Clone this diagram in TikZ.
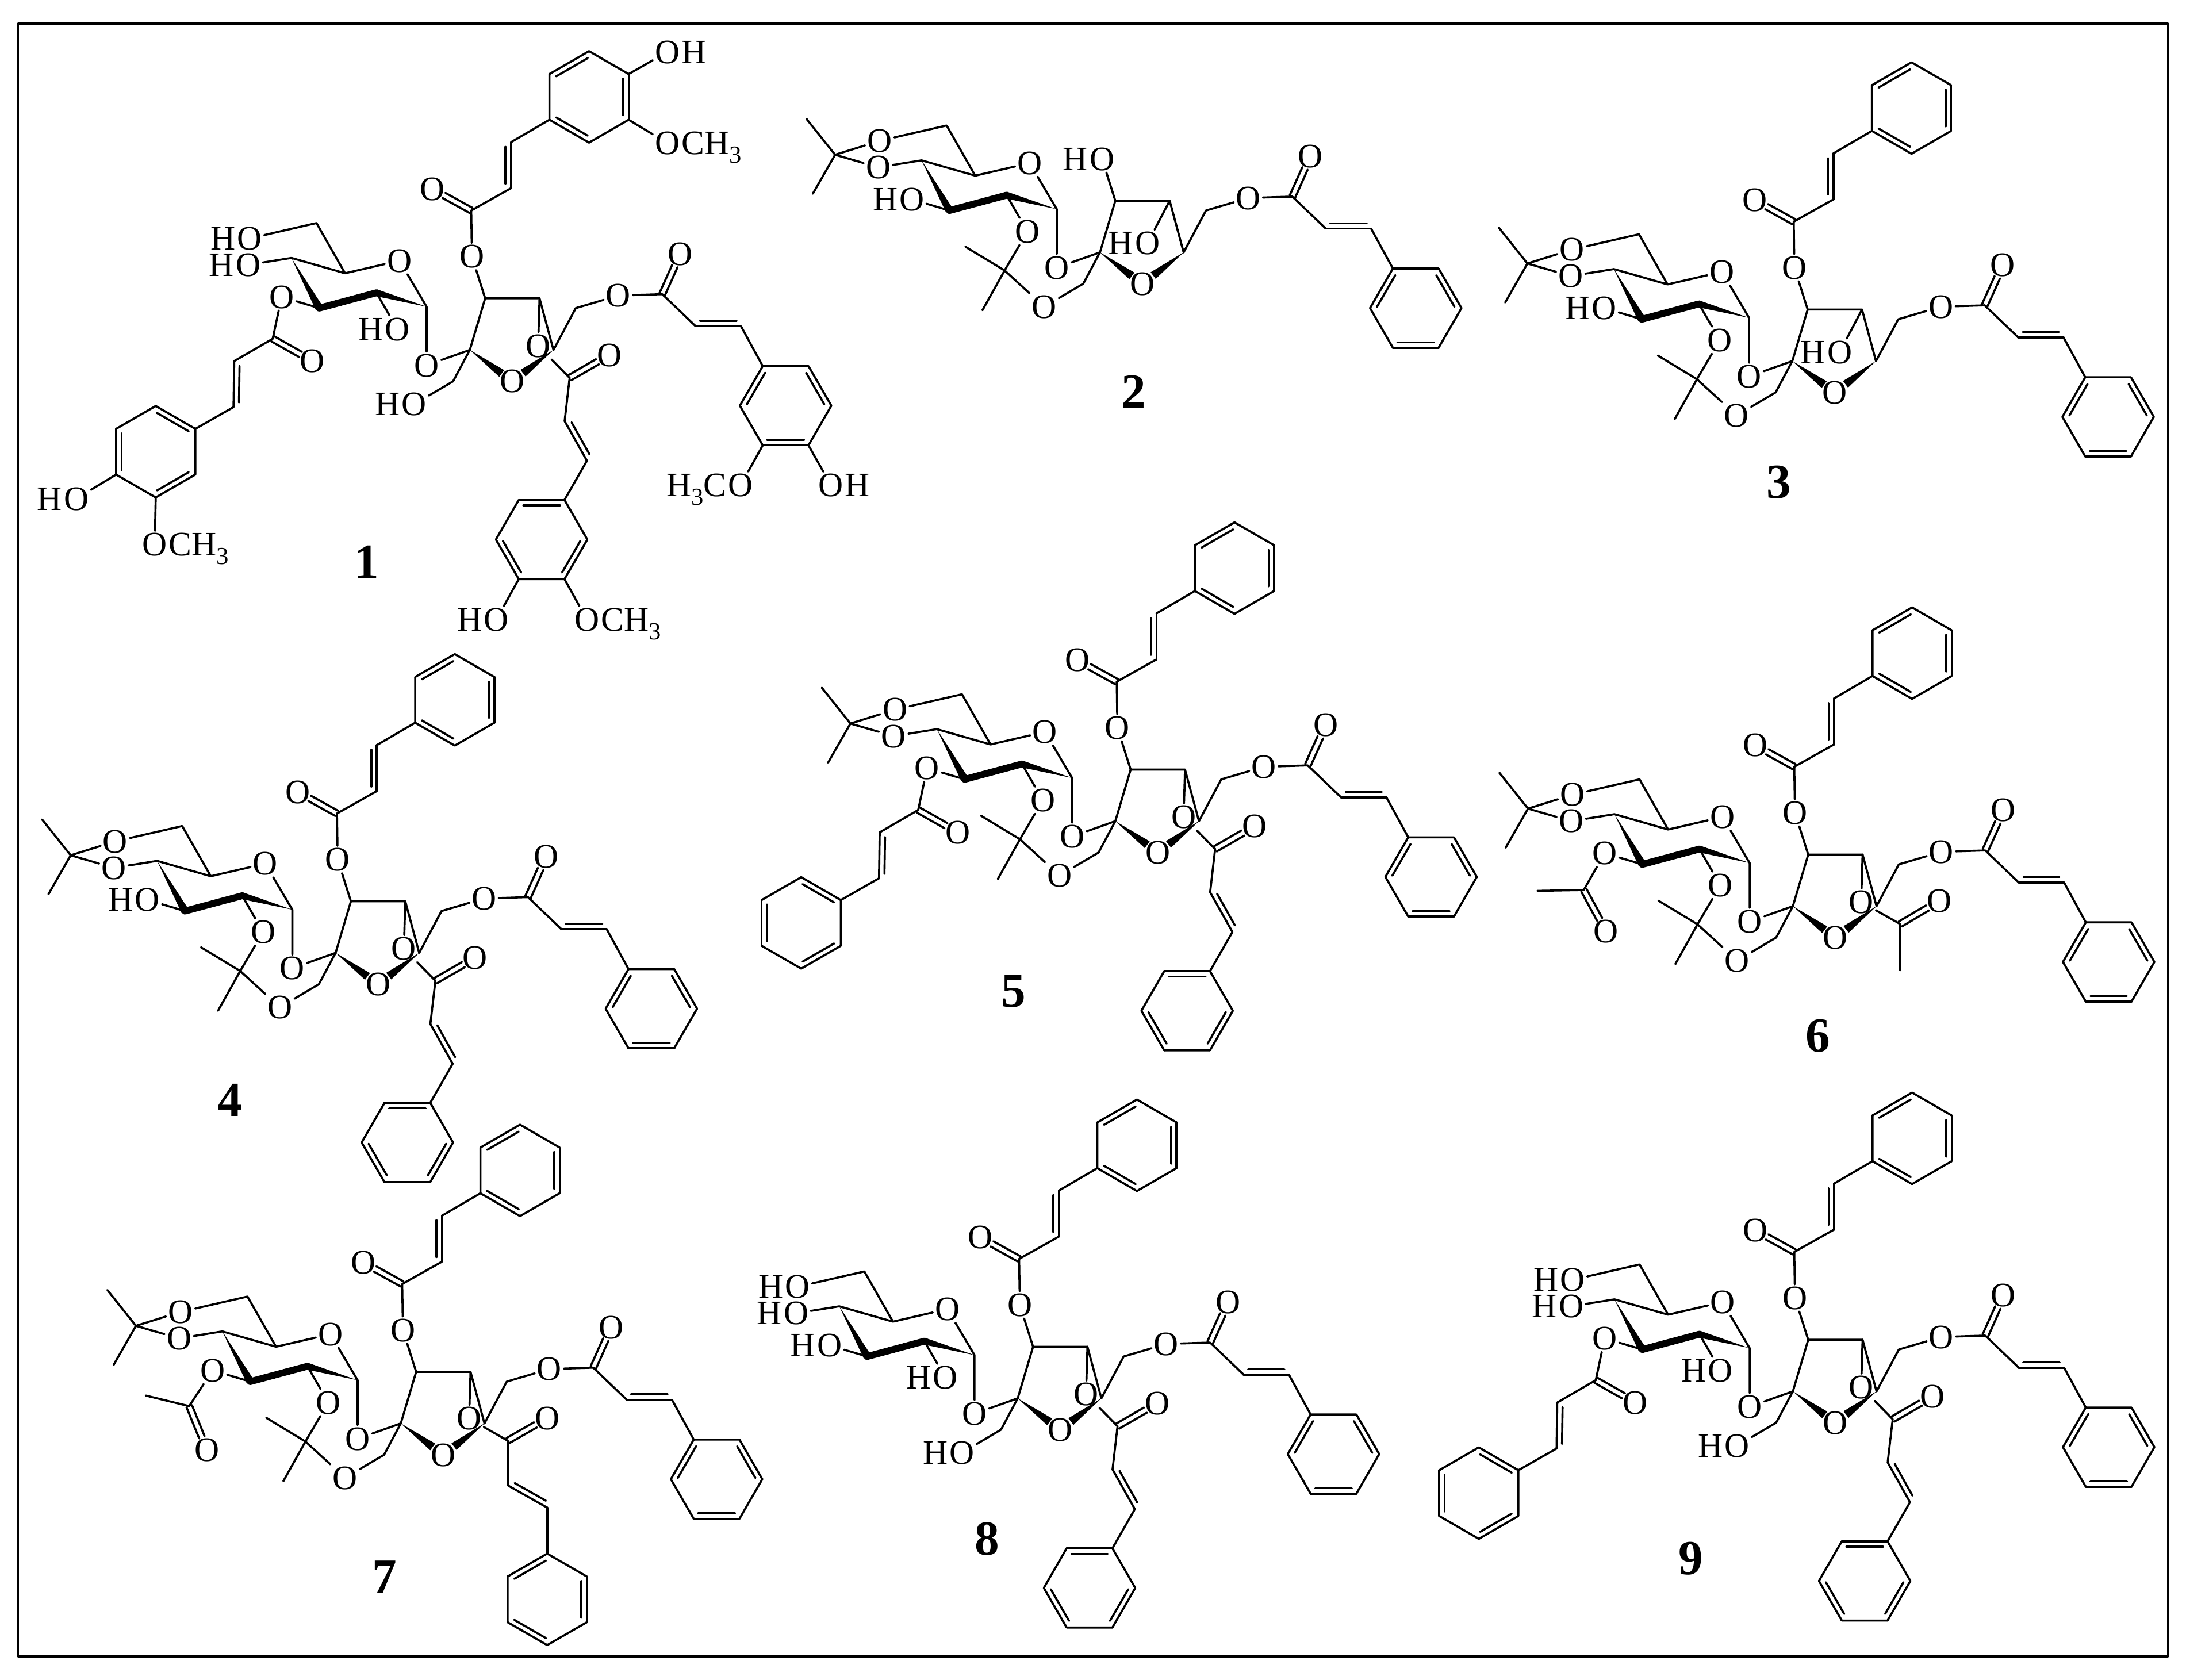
\documentclass[tikz,border=0pt]{standalone}
\usepackage{fontspec}
\setmainfont{Liberation Serif}
\usetikzlibrary{calc}

\tikzset{
    atom/.style={inner sep=0.5pt,text depth=0pt,font=\fontsize{14}{16}\selectfont},
    tailw/.style={inner sep=0pt,anchor=base east,xshift=0.6pt,font=\fontsize{14}{16}\selectfont},
    taile/.style={inner sep=0pt,anchor=base west,xshift=-0.6pt,font=\fontsize{14}{16}\selectfont},
    molno/.style={font=\fontsize{20}{22}\selectfont\bfseries},
    frame/.style={line width=0.9pt},
    boldbond/.style={line width=2.8pt}
}
\newcommand{\subthree}{\raisebox{-3.5pt}{\fontsize{10}{10}\selectfont 3}}

% double bonds, ring and wedge
\newcommand{\dbl}[3]{
    \draw (#1) -- (#2);
    \draw ($(#1)!.1!(#2)!#3!90:(#2)$) -- ($(#2)!.1!(#1)!#3!-90:(#1)$);
}
\newcommand{\dbo}[2]{
    \draw[shorten >=5.5pt] ($(#1)!1.2pt!90:(#2)$) -- ($(#2)!1.2pt!-90:(#1)$);
    \draw[shorten >=5.5pt] ($(#1)!1.2pt!-90:(#2)$) -- ($(#2)!1.2pt!90:(#1)$);
}
\newcommand{\ring}[3]{
    \foreach \k in {1,...,6}
        \path (#2) ++({#3+60*(\k-1)}:32.8) coordinate (#1\k);
    \dbl{#11}{#12}{-2.2pt}
    \dbl{#13}{#14}{-2.2pt}
    \dbl{#15}{#16}{-2.2pt}
    \draw (#12) -- (#13) (#14) -- (#15) (#16) -- (#11);
}
\newcommand{\wdg}[4]{
    \fill (#1) -- ($(#1)!#3!(#2)!#4!90:(#1)$) -- ($(#1)!#3!(#2)!#4!-90:(#1)$) -- cycle;
}

% labels on oxygen atoms
\newcommand{\hon}[1]{\node[tailw] (#1h) at (#1.base west) {H};}
\newcommand{\hol}[3]{
    \node[atom] (#1) at (#2) {O};
    \hon{#1}
    \draw (#3) -- (#1);
}
\newcommand{\hor}[3]{
    \node[atom] (#1) at (#2) {O};
    \node[taile] (#1h) at (#1.base east) {H};
    \draw (#3) -- (#1);
}
\newcommand{\ome}[3]{
    \node[atom] (#1) at (#2) {O};
    \node[taile] (#1h) at (#1.base east) {CH\subthree};
    \draw (#3) -- (#1);
}
\newcommand{\meo}[3]{
    \node[atom] (#1) at (#2) {O};
    \node[tailw] (#1h) at (#1.base west) {H\subthree C};
    \draw (#3) -- (#1);
}

% pyranose, furanose and the chain on C6
\newcommand{\sugarcore}{
    \coordinate (sp) at (0,0);
    \coordinate (cb) at (11,-37);
    \coordinate (cc) at (50,-37);
    \coordinate (cd) at (60,0);
    \coordinate (ce) at (76,-30);
    \coordinate (cm) at (-12,22.5);
    \coordinate (pa) at (-110,-91);
    \coordinate (pb) at (-128,-66);
    \coordinate (pc) at (-89.5,-55);
    \coordinate (pe) at (-31,-31);
    \coordinate (pf) at (-67,-41);
    \coordinate (pg) at (-108,-30);
    \coordinate (sc) at (138,-40);
    \coordinate (sd) at (162,-17);
    \coordinate (sf) at (194.5,-17);
    \node[atom] (pd) at (-50.5,-64) {O};
    \node[atom] (og) at (-31,11) {O};
    \node[atom] (or) at (30.5,22.5) {O};
    \node[atom] (ob) at (1.5,-67) {O};
    \node[atom] (os) at (106.5,-39) {O};
    \node[atom] (so) at (151,-69) {O};
    \node[atom] (osix) at (-158,-80) {O};
    \node[atom] (ofour) at (-159,-61) {O};
    \node[atom] (othree) at (-135,-38) {O};
    \node[atom] (otwo) at (-52,-15) {O};
    \node[atom] (ocm) at (-40,39) {O};
    \draw (pb) -- (pc) -- (pa) (pc) -- (pd) -- (pe) -- (og) -- (sp) -- (cb) -- (cc) -- (cd) -- (ce) -- (os) -- (sc);
    \draw (sp) -- (cm) -- (ocm) (cb) -- (ob);
    \draw (pa) -- (osix) (pb) -- (ofour) (pg) -- (othree) (pf) -- (otwo);
    \wdg{pb}{pg}{1}{1.6pt}
    \draw[boldbond] (pg) -- (pf);
    \wdg{pe}{pf}{1}{1.4pt}
    \wdg{sp}{or}{.75}{1.7pt}
    \wdg{cd}{or}{.74}{1.7pt}
    \dbo{sc}{so}
    \draw (sc) -- (sd);
    \dbl{sd}{sf}{2.2pt}
    \ring{sr}{226.5,40}{60}
    \draw (sf) -- (sr4);
}

\newcommand{\isosix}{
    \coordinate (qa) at (-190,-70);
    \coordinate (qb) at (-210.5,-95.7);
    \coordinate (qc) at (-206,-42);
    \draw (osix) -- (qa) (ofour) -- (qa) (qb) -- (qa) -- (qc);
}
\newcommand{\isotwo}{
    \coordinate (ua) at (-68.4,13);
    \coordinate (ub) at (-96.5,-4);
    \coordinate (uc) at (-84.3,41.5);
    \draw (otwo) -- (ua) (ocm) -- (ua) (ub) -- (ua) -- (uc);
}
\newcommand{\hofour}{
    \node[atom] (oc) at (34,-6.5) {O};
    \hon{oc}
    \draw (cc) -- (oc);
}
\newcommand{\acyltop}{
    \coordinate (tc) at (1,-100);
    \coordinate (td) at (29.5,-116);
    \coordinate (tf) at (29.5,-149);
    \node[atom] (to) at (-27,-115.5) {O};
    \draw (ob) -- (tc) -- (td);
    \dbo{tc}{to}
    \dbl{td}{tf}{2.2pt}
    \ring{tr}{85.5,-181.5}{210}
    \draw (tf) -- (tr6);
}
\newcommand{\acylfour}{
    \coordinate (kc) at (71.6,20);
    \coordinate (kd) at (68,51);
    \coordinate (kf) at (84,79.5);
    \node[atom] (oc) at (49,-3) {O};
    \node[atom] (ko) at (100,3.6) {O};
    \draw (cc) -- (oc) -- (kc) -- (kd);
    \dbo{kc}{ko}
    \dbl{kd}{kf}{2.2pt}
    \ring{kr}{51.5,136}{240}
    \draw (kf) -- (kr2);
}
\newcommand{\acylfourb}{
    \coordinate (kc) at (76.7,12.4);
    \coordinate (kd) at (77,44.6);
    \coordinate (kf) at (105,60.4);
    \node[atom] (oc) at (49,-3.5) {O};
    \node[atom] (ko) at (105,-3.8) {O};
    \draw (cc) -- (oc) -- (kc) -- (kd);
    \dbo{kc}{ko}
    \dbl{kd}{kf}{2.2pt}
    \ring{kr}{105,126.2}{210}
    \draw (kf) -- (kr2);
}
\newcommand{\acetfour}{
    \coordinate (kc) at (77,12.8);
    \coordinate (kd) at (77,46);
    \node[atom] (oc) at (49,-3) {O};
    \node[atom] (ko) at (105,-3.7) {O};
    \draw (cc) -- (oc) -- (kc) -- (kd);
    \dbo{kc}{ko}
}
\newcommand{\acylthree}{
    \coordinate (lc) at (-141.4,-8);
    \coordinate (ld) at (-169,8);
    \coordinate (lf) at (-169.5,41);
    \node[atom] (lo) at (-113,8) {O};
    \draw (othree) -- (lc) -- (ld);
    \dbo{lc}{lo}
    \dbl{ld}{lf}{2.2pt}
    \ring{lr}{-225.3,73}{270}
    \draw (lf) -- (lr2);
}
\newcommand{\acetthree}[3]{
    \coordinate (lc) at (#1);
    \coordinate (ld) at (#3);
    \node[atom] (lo) at (#2) {O};
    \draw (othree) -- (lc) -- (ld);
    \dbo{lc}{lo}
}

\begin{document}
\begin{tikzpicture}[x=0.02cm,y=-0.02cm,line width=0.85pt,line cap=round,line join=round]
    \useasboundingbox (0,0) rectangle (1568,1205);
    \coordinate (fa) at (13,17);
    \coordinate (fb) at (1555,1188);
    \draw[frame] (fa) rectangle (fb);

    \foreach \n/\px/\py in {1/263/403,2/813/281,3/1276/346,4/165/789,5/727/711,6/1304/743,7/276/1131,8/708/1104,9/1213/1118}
        \node[molno] (no\n) at (\px,\py) {\n};

    \begin{scope}[shift={(337,251)},name prefix=a-]
        \sugarcore
        \hon{osix} \hon{ofour} \hon{otwo} \hon{ocm}
        \acyltop \acylfour \acylthree
        \hor{ua}{141.7,-213.7}{tr3}
        \ome{ub}{141.7,-148.4}{tr4}
        \meo{uc}{194.3,97}{sr2}
        \hor{ud}{259,97}{sr1}
        \hol{ue}{19,193.4}{kr5}
        \ome{uf}{84,193.4}{kr4}
        \hol{ug}{-282.3,106.7}{lr5}
        \ome{uh}{-226,139.6}{lr4}
    \end{scope}
    \begin{scope}[shift={(789,181)},name prefix=b-]
        \sugarcore \isosix \isotwo
        \hon{othree} \hon{ob} \hofour
    \end{scope}
    \begin{scope}[shift={(1285.6,259)},name prefix=c-]
        \sugarcore \isosix \isotwo
        \hon{othree} \hofour \acyltop
    \end{scope}
    \begin{scope}[shift={(240.7,683.5)},name prefix=d-]
        \sugarcore \isosix \isotwo
        \hon{othree} \acyltop \acylfour
    \end{scope}
    \begin{scope}[shift={(800,589)},name prefix=e-]
        \sugarcore \isosix \isotwo
        \acylthree \acyltop \acylfour
    \end{scope}
    \begin{scope}[shift={(1286,650)},name prefix=f-]
        \sugarcore \isosix \isotwo
        \acetthree{-150,-11.6}{-134,18}{-183.3,-11}
        \acyltop \acetfour
    \end{scope}
    \begin{scope}[shift={(287.5,1021)},name prefix=g-]
        \sugarcore \isosix \isotwo
        \acetthree{-151.8,-12.4}{-139,19}{-183,-20}
        \acyltop \acylfourb
    \end{scope}
    \begin{scope}[shift={(730,1003)},name prefix=h-]
        \sugarcore
        \hon{osix} \hon{ofour} \hon{othree} \hon{otwo} \hon{ocm}
        \acyltop \acylfour
    \end{scope}
    \begin{scope}[shift={(1286,998)},name prefix=i-]
        \sugarcore
        \hon{osix} \hon{ofour} \hon{otwo} \hon{ocm}
        \acylthree \acyltop \acylfour
    \end{scope}
\end{tikzpicture}
\end{document}
